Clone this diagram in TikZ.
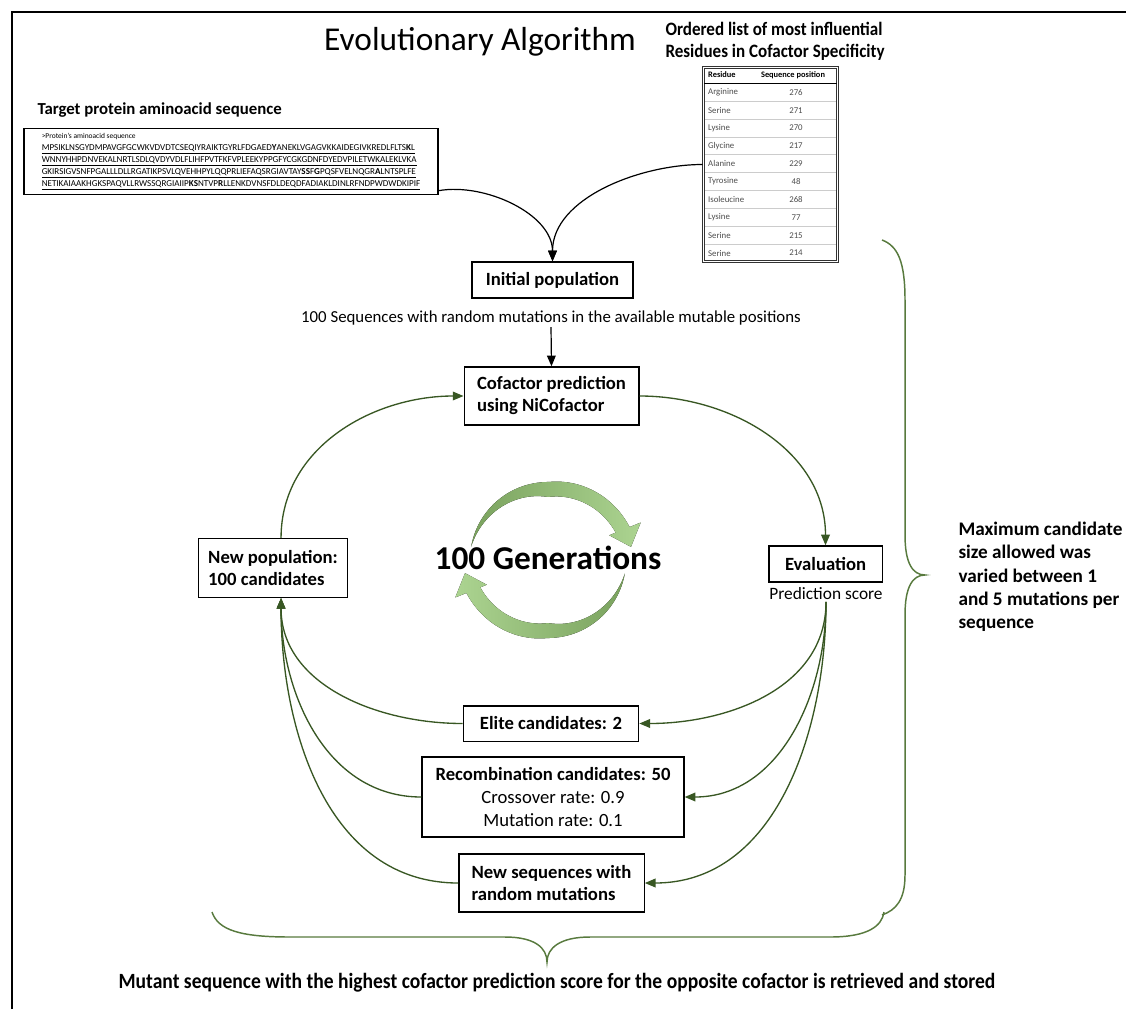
\documentclass[tikz,border=0pt]{standalone}
\usepackage{fontspec}
\setmainfont{Carlito}
\newfontfamily\condfont[FakeStretch=0.9]{Carlito}
\usetikzlibrary{arrows.meta}

\definecolor{arrowgreen}{RGB}{56,87,35}
\definecolor{bracegreen}{RGB}{88,122,62}
\definecolor{ringlight}{RGB}{172,212,145}
\definecolor{ringdark}{RGB}{122,162,94}

\tikzset{every picture/.style={line width=0.75pt}}
\tikzset{
  box/.style={draw, line width=1pt, fill=white, inner sep=2pt, font=\bfseries\fontsize{14}{16.5}\selectfont},
  plain/.style={inner sep=1pt, font=\fontsize{13}{16}\selectfont},
  tabhead/.style={inner sep=0.5pt, font=\bfseries\fontsize{6.3}{7}\selectfont},
  tabcell/.style={inner sep=0.5pt, text=black!70, font=\fontsize{6.6}{7}\selectfont},
  feed/.style={draw=black, line width=0.9pt, -{Triangle[length=8pt,width=6.5pt]}},
  flow/.style={draw=arrowgreen, line width=1pt, -{Triangle[length=8pt,width=6.5pt]}},
  brace/.style={draw=bracegreen, line width=1.1pt},
}

% one of the two circling arrows, #1 = turn, #2/#3 = left/right colour
\newcommand{\genring}[3]{%
  \fill[left color=#2, right color=#3]
    plot[domain=170:22, samples=50] ({548+(78+10*max(0,(90-\x)/68))*cos(\x+#1)}, {560-(78+10*max(0,(90-\x)/68))*sin(\x+#1)})
    -- ({548+100*cos(22+#1)}, {560-100*sin(22+#1)})
    -- ({548+84*cos(9+#1)}, {560-84*sin(9+#1)})
    -- ({548+66*cos(22+#1)}, {560-66*sin(22+#1)})
    -- plot[domain=22:170, samples=50] ({548+(78+10*max(0,(90-\x)/68)-15*min(1,(170-\x)/80))*cos(\x+#1)}, {560-(78+10*max(0,(90-\x)/68)-15*min(1,(170-\x)/80))*sin(\x+#1)})
    -- cycle;}

\begin{document}
\begin{tikzpicture}[x=0.75pt,y=0.75pt,yscale=-1,xscale=1]
\path[use as bounding box] (0,0) rectangle (1126,1009);

%Frame
\draw[line width=1.2pt] (12,1009) -- (12,12) -- (1126,12);

% Title
\draw (480,42) node [inner sep=0pt, font=\fontsize{25}{30}\selectfont] (title) {Evolutionary Algorithm};
% Text Node
\draw (665,41) node [anchor=west, align=left, inner sep=0pt, font=\condfont\bfseries\fontsize{14.2}{16.5}\selectfont] (ordhead) {Ordered list of most influential\\Residues in Cofactor Specificity};
% Text Node
\draw (37,110) node [anchor=west, inner sep=0pt, font=\bfseries\fontsize{12.6}{14}\selectfont] (tgtlabel) {Target protein aminoacid sequence};

%Sequence box
\draw (231,161.5) node [draw, line width=0.9pt, minimum width=310.5pt, minimum height=50pt, inner sep=2pt, align=left, font=\fontsize{6.8}{9}\selectfont] (seq) {{\fontsize{5.6}{7}\selectfont >Protein's aminoacid sequence}\\
\underline{MPSIKLNSGYDMPAVGFGCWKVDVDTCSEQIYRAIKTGYRLFDGAED\textbf{Y}ANEKLVGAGVKKAIDEGIVKREDLFLTS\textbf{K}L}\\
\underline{WNNYHHPDNVEKALNRTLSDLQVDYVDLFLIHFPVTFKFVPLEEKYPPGFYCGKGDNFDYEDVPILETWKALEKLVKA}\\
\underline{GKIRSIGVSNFPGALLLDLLRGATIKPSVLQVEHHPYLQQPRLIEFAQSRGIAVTAY\textbf{SS}F\textbf{G}PQSFVELNQGR\textbf{A}LNTSPLFE}\\
\underline{NETIKAIAAKHGKSPAQVLLRWSSQRGIAIIP\textbf{KS}NTVP\textbf{R}LLENKDVNSFDLDEQDFADIAKLDINLRFNDPWDWDKIPIF}};

%Residue table
\draw (770.5,164.5) node [draw=black!80, double, double distance=0.9pt, line width=0.7pt, minimum width=101pt, minimum height=146pt] (tbl) {};
\draw (707,75) node [anchor=west, tabhead] (reshead) {Residue};
\draw (793,75) node [tabhead] (poshead) {Sequence position};
\draw[line width=0.6pt] (704,83.5) -- (837,83.5);
\foreach \i in {1,...,9} \draw[black!20] (705,{83.5+17.85*\i}) -- (836,{83.5+17.85*\i});
\foreach \res/\pos [count=\i] in {Arginine/276, Serine/271, Lysine/270, Glycine/217, Alanine/229, Tyrosine/48, Isoleucine/268, Lysine/77, Serine/215, Serine/214}{
  \draw (707,{83.5+17.85*(\i-0.5)}) node [anchor=west, tabcell] (res\i) {\res};
  \draw (796,{83.5+17.85*(\i-0.5)}) node [tabcell] (pos\i) {\pos};
}

%Boxes
\draw (552.5,280) node [box, minimum width=120.75pt, minimum height=27pt] (init) {Initial population};
\draw (551,318) node [plain, font=\fontsize{12.6}{15}\selectfont] (seqtext) {100 Sequences with random mutations in the available mutable positions};
\draw (551.5,396) node [box, align=left, minimum width=131pt, minimum height=43.5pt] (cof) {Cofactor prediction\\using NiCofactor};
\draw (825.5,564) node [box, minimum width=85pt, minimum height=27pt] (eval) {Evaluation};
\draw (826,594) node [plain] (score) {Prediction score};
\draw (273,568) node [box, align=left, minimum width=112pt, minimum height=44pt] (newpop) {New population:\\100 candidates};
\draw (551,723.5) node [box, minimum width=131.5pt, minimum height=26.5pt] (elite) {Elite candidates: 2};
\draw (553,797) node [box, align=center, minimum width=196.5pt, minimum height=60pt, font=\fontsize{14}{17.3}\selectfont] (recomb) {\textbf{Recombination candidates: 50}\\Crossover rate: 0.9\\Mutation rate: 0.1};
\draw (551.5,883) node [box, align=left, minimum width=139pt, minimum height=43.5pt] (newseq) {New sequences with\\random mutations};

%Generations ring
\genring{0}{ringdark}{ringlight}
\genring{180}{ringlight}{ringdark}
\draw (548,558) node [inner sep=0pt, font=\bfseries\fontsize{25}{30}\selectfont] (gens) {100 Generations};

%Black connectors
\draw[feed] (seq.-8) to[out=-10, in=-90, looseness=0.9] (init.north);
\draw[feed] (tbl.west) to[out=180, in=-90, looseness=0.9] (init.north);
\draw[feed] (seqtext.south) -- (cof.north);

%Green connectors
\draw[flow] (cof.east) to[out=0, in=-90] (eval.north);
\draw[flow] (newpop.75) to[out=-90, in=180] (cof.west);
\draw[flow] (score.south) to[out=90, in=0] (elite.east);
\draw[flow] (score.south) to[out=90, in=0] (recomb.east);
\draw[flow] (score.south) to[out=90, in=0] (newseq.east);
\draw[flow] (elite.west) to[out=180, in=90] (newpop.-75);
\draw[flow] (recomb.west) to[out=180, in=90] (newpop.-75);
\draw[flow] (newseq.west) to[out=180, in=90] (newpop.-75);

%Right brace
\draw[brace] (882,240) .. controls (898,246) and (905,262) .. (905,300) -- (905,535) .. controls (905,562) and (912,575) .. (925,575) .. controls (912,575) and (905,588) .. (905,615) -- (905,875) .. controls (905,900) and (896,910) .. (882,915);
%Bottom brace
\draw[brace] (212,912) .. controls (218,930) and (240,937) .. (290,937) -- (505,937) .. controls (535,937) and (547,948) .. (547,962) .. controls (547,948) and (560,937) .. (590,937) -- (830,937) .. controls (868,937) and (882,926) .. (884,912);

% Text Node
\draw (958,577) node [anchor=west, align=left, inner sep=0pt, font=\bfseries\fontsize{14.4}{17.5}\selectfont] (maxsize) {Maximum candidate\\size allowed was\\varied between 1\\and 5 mutations per\\sequence};
% Text Node
\draw (557,983) node [inner sep=0pt, font=\condfont\bfseries\fontsize{16.3}{19}\selectfont] (result) {Mutant sequence with the highest cofactor prediction score for the opposite cofactor is retrieved and stored};

\end{tikzpicture}
\end{document}
